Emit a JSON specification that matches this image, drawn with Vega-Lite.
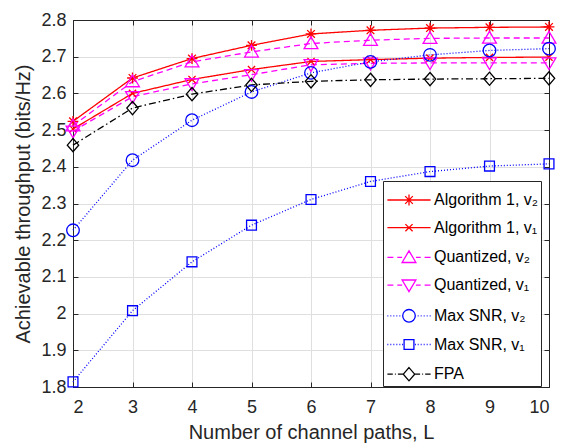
{
  "$schema": "https://vega.github.io/schema/vega-lite/v6.json",
  "width": 476,
  "height": 367,
  "autosize": {"type": "none"},
  "padding": {"left": 73, "top": 20, "right": 15, "bottom": 58},
  "background": "white",
  "config": {
    "view": {"stroke": "#262626", "strokeWidth": 1},
    "font": "Liberation Sans",
    "axis": {
      "labelFont": "Liberation Sans",
      "labelFontSize": 18,
      "labelColor": "#262626",
      "titleFont": "Liberation Sans",
      "titleFontSize": 20,
      "titleFontWeight": "normal",
      "titleColor": "#262626",
      "domainColor": "#262626",
      "tickColor": "#262626",
      "gridColor": "#dfdfdf",
      "gridWidth": 1
    }
  },
  "data": {
    "values": [
      {"L": 2, "value": 2.524, "series": "Algorithm 1, v₂"},
      {"L": 3, "value": 2.642, "series": "Algorithm 1, v₂"},
      {"L": 4, "value": 2.695, "series": "Algorithm 1, v₂"},
      {"L": 5, "value": 2.731, "series": "Algorithm 1, v₂"},
      {"L": 6, "value": 2.762, "series": "Algorithm 1, v₂"},
      {"L": 7, "value": 2.772, "series": "Algorithm 1, v₂"},
      {"L": 8, "value": 2.778, "series": "Algorithm 1, v₂"},
      {"L": 9, "value": 2.780, "series": "Algorithm 1, v₂"},
      {"L": 10, "value": 2.781, "series": "Algorithm 1, v₂"},
      {"L": 2, "value": 2.503, "series": "Algorithm 1, v₁"},
      {"L": 3, "value": 2.600, "series": "Algorithm 1, v₁"},
      {"L": 4, "value": 2.638, "series": "Algorithm 1, v₁"},
      {"L": 5, "value": 2.665, "series": "Algorithm 1, v₁"},
      {"L": 6, "value": 2.687, "series": "Algorithm 1, v₁"},
      {"L": 7, "value": 2.692, "series": "Algorithm 1, v₁"},
      {"L": 8, "value": 2.696, "series": "Algorithm 1, v₁"},
      {"L": 9, "value": 2.698, "series": "Algorithm 1, v₁"},
      {"L": 10, "value": 2.699, "series": "Algorithm 1, v₁"},
      {"L": 2, "value": 2.512, "series": "Quantized, v₂"},
      {"L": 3, "value": 2.632, "series": "Quantized, v₂"},
      {"L": 4, "value": 2.686, "series": "Quantized, v₂"},
      {"L": 5, "value": 2.713, "series": "Quantized, v₂"},
      {"L": 6, "value": 2.736, "series": "Quantized, v₂"},
      {"L": 7, "value": 2.745, "series": "Quantized, v₂"},
      {"L": 8, "value": 2.750, "series": "Quantized, v₂"},
      {"L": 9, "value": 2.751, "series": "Quantized, v₂"},
      {"L": 10, "value": 2.751, "series": "Quantized, v₂"},
      {"L": 2, "value": 2.497, "series": "Quantized, v₁"},
      {"L": 3, "value": 2.591, "series": "Quantized, v₁"},
      {"L": 4, "value": 2.626, "series": "Quantized, v₁"},
      {"L": 5, "value": 2.651, "series": "Quantized, v₁"},
      {"L": 6, "value": 2.678, "series": "Quantized, v₁"},
      {"L": 7, "value": 2.682, "series": "Quantized, v₁"},
      {"L": 8, "value": 2.683, "series": "Quantized, v₁"},
      {"L": 9, "value": 2.683, "series": "Quantized, v₁"},
      {"L": 10, "value": 2.683, "series": "Quantized, v₁"},
      {"L": 2, "value": 2.227, "series": "Max SNR, v₂"},
      {"L": 3, "value": 2.418, "series": "Max SNR, v₂"},
      {"L": 4, "value": 2.527, "series": "Max SNR, v₂"},
      {"L": 5, "value": 2.604, "series": "Max SNR, v₂"},
      {"L": 6, "value": 2.656, "series": "Max SNR, v₂"},
      {"L": 7, "value": 2.686, "series": "Max SNR, v₂"},
      {"L": 8, "value": 2.705, "series": "Max SNR, v₂"},
      {"L": 9, "value": 2.717, "series": "Max SNR, v₂"},
      {"L": 10, "value": 2.722, "series": "Max SNR, v₂"},
      {"L": 2, "value": 1.814, "series": "Max SNR, v₁"},
      {"L": 3, "value": 2.008, "series": "Max SNR, v₁"},
      {"L": 4, "value": 2.141, "series": "Max SNR, v₁"},
      {"L": 5, "value": 2.241, "series": "Max SNR, v₁"},
      {"L": 6, "value": 2.311, "series": "Max SNR, v₁"},
      {"L": 7, "value": 2.360, "series": "Max SNR, v₁"},
      {"L": 8, "value": 2.387, "series": "Max SNR, v₁"},
      {"L": 9, "value": 2.402, "series": "Max SNR, v₁"},
      {"L": 10, "value": 2.408, "series": "Max SNR, v₁"},
      {"L": 2, "value": 2.459, "series": "FPA"},
      {"L": 3, "value": 2.560, "series": "FPA"},
      {"L": 4, "value": 2.598, "series": "FPA"},
      {"L": 5, "value": 2.623, "series": "FPA"},
      {"L": 6, "value": 2.633, "series": "FPA"},
      {"L": 7, "value": 2.637, "series": "FPA"},
      {"L": 8, "value": 2.639, "series": "FPA"},
      {"L": 9, "value": 2.640, "series": "FPA"},
      {"L": 10, "value": 2.641, "series": "FPA"}
    ]
  },
  "layer": [
    {
      "mark": {"type": "line", "strokeWidth": 1.3},
      "encoding": {
        "x": {
          "field": "L", "type": "quantitative",
          "scale": {"domain": [2, 10], "nice": false, "zero": false},
          "axis": {"values": [2, 3, 4, 5, 6, 7, 8, 9, 10], "title": "Number of channel paths, L", "tickSize": -5, "labelPadding": 16, "titlePadding": 6, "grid": true}
        },
        "y": {
          "field": "value", "type": "quantitative",
          "scale": {"domain": [1.8, 2.8], "nice": false, "zero": false},
          "axis": {"values": [1.8, 1.9, 2, 2.1, 2.2, 2.3, 2.4, 2.5, 2.6, 2.7, 2.8], "format": ".1~f", "title": "Achievable throughput (bits/Hz)", "tickSize": -5, "labelPadding": 12, "titlePadding": 7, "grid": true}
        },
        "color": {
          "field": "series", "type": "nominal",
          "scale": {
            "domain": ["Algorithm 1, v₂", "Algorithm 1, v₁", "Quantized, v₂", "Quantized, v₁", "Max SNR, v₂", "Max SNR, v₁", "FPA"],
            "range": ["#ff0000", "#ff0000", "#ff00ff", "#ff00ff", "#0000ff", "#0000ff", "#000000"]
          },
          "legend": null
        },
        "strokeDash": {
          "field": "series", "type": "nominal",
          "scale": {
            "domain": ["Algorithm 1, v₂", "Algorithm 1, v₁", "Quantized, v₂", "Quantized, v₁", "Max SNR, v₂", "Max SNR, v₁", "FPA"],
            "range": [[1, 0], [1, 0], [6, 4], [6, 4], [1, 2], [1, 2], [7, 3, 1.5, 3]]
          },
          "legend": null
        }
      }
    },
    {
      "mark": {"type": "point", "filled": false, "strokeWidth": 1.3, "size": 144, "opacity": 1},
      "encoding": {
        "x": {
          "field": "L", "type": "quantitative",
          "axis": {"orient": "top", "values": [2, 3, 4, 5, 6, 7, 8, 9, 10], "labels": false, "title": null, "grid": false, "tickSize": -5}
        },
        "y": {
          "field": "value", "type": "quantitative",
          "axis": {"orient": "right", "values": [1.8, 1.9, 2, 2.1, 2.2, 2.3, 2.4, 2.5, 2.6, 2.7, 2.8], "labels": false, "title": null, "grid": false, "tickSize": -5}
        },
        "color": {
          "field": "series", "type": "nominal",
          "scale": {
            "domain": ["Algorithm 1, v₂", "Algorithm 1, v₁", "Quantized, v₂", "Quantized, v₁", "Max SNR, v₂", "Max SNR, v₁", "FPA"],
            "range": ["#ff0000", "#ff0000", "#ff00ff", "#ff00ff", "#0000ff", "#0000ff", "#000000"]
          },
          "legend": null
        },
        "shape": {
          "field": "series", "type": "nominal",
          "scale": {
            "domain": ["Algorithm 1, v₂", "Algorithm 1, v₁", "Quantized, v₂", "Quantized, v₁", "Max SNR, v₂", "Max SNR, v₁", "FPA"],
            "range": [
              "M0,-0.9L0,0.9M-0.9,0L0.9,0M-0.64,-0.64L0.64,0.64M-0.64,0.64L0.64,-0.64",
              "M-0.6,-0.6L0.6,0.6M-0.6,0.6L0.6,-0.6",
              "M0,-1.1L1.15,0.85L-1.15,0.85Z",
              "M0,1.1L1.15,-0.85L-1.15,-0.85Z",
              "M1.05,0A1.05,1.05,0,1,1,-1.05,0A1.05,1.05,0,1,1,1.05,0Z",
              "M-0.82,-0.82L0.82,-0.82L0.82,0.82L-0.82,0.82Z",
              "M0,-1.1L0.95,0L0,1.1L-0.95,0Z"
            ]
          },
          "legend": null
        }
      }
    },
    {
      "transform": [{"filter": "datum.L > 100"}],
      "mark": {"type": "point", "filled": false, "strokeWidth": 1.3, "size": 144, "opacity": 1},
      "encoding": {
        "x": {"field": "L", "type": "quantitative", "axis": null},
        "y": {"field": "value", "type": "quantitative", "axis": null},
        "color": {
          "field": "series", "type": "nominal",
          "scale": {
            "domain": ["Algorithm 1, v₂", "Algorithm 1, v₁", "Quantized, v₂", "Quantized, v₁", "Max SNR, v₂", "Max SNR, v₁", "FPA"],
            "range": ["#ff0000", "#ff0000", "#ff00ff", "#ff00ff", "#0000ff", "#0000ff", "#000000"]
          },
          "legend": {
            "orient": "none", "legendX": 310, "legendY": 161,
            "title": " ", "titleFontSize": 9, "titlePadding": 0,
            "fillColor": "white", "strokeColor": "#262626",
            "padding": 2,
            "labelFont": "Liberation Sans", "labelFontSize": 16, "labelColor": "#000000",
            "symbolSize": 144, "symbolStrokeWidth": 1.3,
            "symbolOffset": 16, "labelOffset": 17, "rowPadding": 11.7
          }
        },
        "shape": {
          "field": "series", "type": "nominal",
          "scale": {
            "domain": ["Algorithm 1, v₂", "Algorithm 1, v₁", "Quantized, v₂", "Quantized, v₁", "Max SNR, v₂", "Max SNR, v₁", "FPA"],
            "range": [
              "M-3.6,0L3.6,0M0,-0.9L0,0.9M-0.64,-0.64L0.64,0.64M-0.64,0.64L0.64,-0.64",
              "M-3.6,0L3.6,0M-0.6,-0.6L0.6,0.6M-0.6,0.6L0.6,-0.6",
              "M-3.6,0L-2.6,0M-1.95,0L-1.15,0M1.15,0L1.95,0M2.6,0L3.6,0M0,-1.1L1.15,0.85L-1.15,0.85Z",
              "M-3.6,0L-2.6,0M-1.95,0L-1.15,0M1.15,0L1.95,0M2.6,0L3.6,0M0,1.1L1.15,-0.85L-1.15,-0.85Z",
              "M-3.6,0L-3.45,0M-3.1,0L-2.95,0M-2.6,0L-2.45,0M-2.1,0L-1.95,0M-1.6,0L-1.45,0M1.45,0L1.6,0M1.95,0L2.1,0M2.45,0L2.6,0M2.95,0L3.1,0M3.45,0L3.6,0M1.05,0A1.05,1.05,0,1,1,-1.05,0A1.05,1.05,0,1,1,1.05,0Z",
              "M-3.6,0L-3.45,0M-3.1,0L-2.95,0M-2.6,0L-2.45,0M-2.1,0L-1.95,0M-1.6,0L-1.45,0M-1.15,0L-1.0,0M1.0,0L1.15,0M1.45,0L1.6,0M1.95,0L2.1,0M2.45,0L2.6,0M2.95,0L3.1,0M3.45,0L3.6,0M-0.82,-0.82L0.82,-0.82L0.82,0.82L-0.82,0.82Z",
              "M-3.6,0L-2.7,0M-2.35,0L-2.2,0M-1.85,0L-0.95,0M0.95,0L1.85,0M2.2,0L2.35,0M2.7,0L3.6,0M0,-1.1L0.95,0L0,1.1L-0.95,0Z"
            ]
          },
          "legend": {
            "orient": "none", "legendX": 310, "legendY": 161,
            "title": " ", "titleFontSize": 9, "titlePadding": 0,
            "fillColor": "white", "strokeColor": "#262626",
            "padding": 2,
            "labelFont": "Liberation Sans", "labelFontSize": 16, "labelColor": "#000000",
            "symbolSize": 144, "symbolStrokeWidth": 1.3,
            "symbolOffset": 16, "labelOffset": 17, "rowPadding": 11.7
          }
        }
      }
    }
  ],
  "resolve": {
    "scale": {"color": "independent", "shape": "independent", "strokeDash": "independent"},
    "legend": {"color": "independent", "shape": "independent", "strokeDash": "independent"},
    "axis": {"x": "independent", "y": "independent"}
  }
}
